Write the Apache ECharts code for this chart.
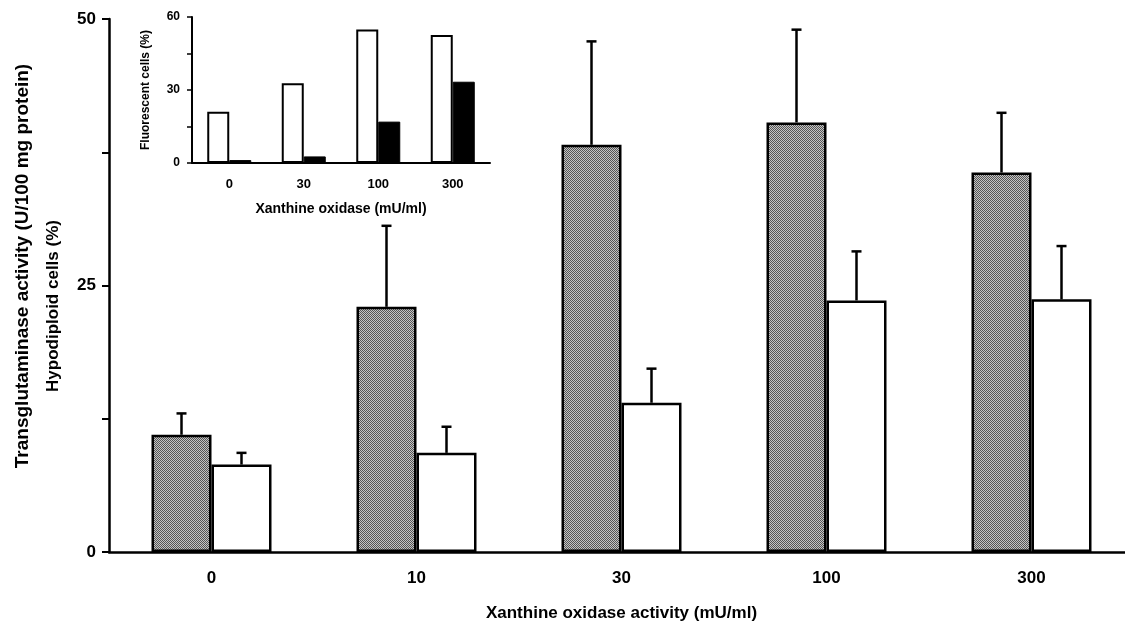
<!DOCTYPE html>
<html><head><meta charset="utf-8">
<script src="https://cdn.jsdelivr.net/npm/echarts@6/dist/echarts.min.js"></script>
<style>html,body{margin:0;padding:0;background:#fff}#c{width:1125px;height:623px}</style>
</head><body><div id="c"></div>
<script>
// ---- data ----
const categories = ['0', '10', '30', '100', '300'];
const transglutaminase = [11.0, 23.0, 38.2, 40.3, 35.6];
const transglutaminaseErr = [2.0, 7.6, 9.7, 8.7, 5.6];
const hypodiploid = [8.2, 9.3, 14.0, 23.6, 23.7];
const hypodiploidErr = [1.1, 2.45, 3.2, 4.6, 5.0];
const mainTickLabels = [0, 25, 50];
const insetCategories = ['0', '30', '100', '300'];
const insetWhite = [21.1, 32.8, 54.9, 52.6];
const insetBlack = [1.2, 2.7, 17.0, 33.4];
const insetTickLabels = [0, 30, 60];
const yTitleLines = ['Transglutaminase activity (U/100 mg protein)', 'Hypodiploid cells (%)'];

// ---- stipple pattern for grey bars ----
const pc = document.createElement('canvas');
pc.width = 4; pc.height = 4;
const pctx = pc.getContext('2d');
for (let y = 0; y < 4; y++) for (let x = 0; x < 4; x++) {
  pctx.fillStyle = ((x + y) % 2 === 0) ? '#555555' : '#c4c4c4';
  pctx.fillRect(x, y, 1, 1);
}
const stipple = { image: pc, repeat: 'repeat' };

const FONT = 'Liberation Sans, Arial, sans-serif';

function errItem(offset, cap) {
  return function (params, api) {
    const i = api.value(0), v = api.value(1), t = api.value(2);
    const p0 = api.coord([i, v]);
    const p1 = api.coord([i, t]);
    const x = p0[0] + offset;
    return {
      type: 'group', children: [
        { type: 'line', shape: { x1: x, y1: p0[1], x2: x, y2: p1[1] }, style: { stroke: '#000', lineWidth: 2.5 } },
        { type: 'line', shape: { x1: x - cap, y1: p1[1], x2: x + cap, y2: p1[1] }, style: { stroke: '#000', lineWidth: 2.5 } }
      ]
    };
  };
}

const chart = echarts.init(document.getElementById('c'), null, { renderer: 'canvas' });
chart.setOption({
  animation: false,
  backgroundColor: '#fff',
  grid: [
    { left: 109, width: 1025, top: 19, height: 533, containLabel: false, outerBoundsMode: 'none' },
    { left: 192, width: 298, top: 17, height: 146, containLabel: false, outerBoundsMode: 'none' }
  ],
  graphic: [
    {
      type: 'text', x: 23, y: 266, rotation: Math.PI / 2,
      style: { text: yTitleLines[0], fill: '#000', font: 'bold 19px ' + FONT, textAlign: 'center', textVerticalAlign: 'middle' }
    },
    {
      type: 'text', x: 53, y: 306, rotation: Math.PI / 2,
      style: { text: yTitleLines[1], fill: '#000', font: 'bold 17px ' + FONT, textAlign: 'center', textVerticalAlign: 'middle' }
    }
  ],
  xAxis: [
    {
      gridIndex: 0, type: 'category', data: categories,
      axisLine: { show: true, lineStyle: { color: '#000', width: 2.5 } },
      axisTick: { show: false },
      axisLabel: { color: '#000', fontFamily: FONT, fontWeight: 'bold', fontSize: 17, margin: 18 },
      name: 'Xanthine oxidase activity (mU/ml)', nameLocation: 'middle', nameGap: 53,
      nameTextStyle: { color: '#000', fontFamily: FONT, fontWeight: 'bold', fontSize: 17 }
    },
    {
      gridIndex: 1, type: 'category', data: insetCategories,
      axisLine: { show: true, lineStyle: { color: '#000', width: 2 } },
      axisTick: { show: false },
      axisLabel: { color: '#000', fontFamily: FONT, fontWeight: 'bold', fontSize: 13, margin: 15 },
      name: 'Xanthine oxidase (mU/ml)', nameLocation: 'middle', nameGap: 39,
      nameTextStyle: { color: '#000', fontFamily: FONT, fontWeight: 'bold', fontSize: 14 }
    }
  ],
  yAxis: [
    {
      gridIndex: 0, type: 'value', min: 0, max: 50, interval: 12.5,
      axisLine: { show: true, lineStyle: { color: '#000', width: 2.5 } },
      axisTick: { show: true, inside: false, length: 7, lineStyle: { color: '#000', width: 2 } },
      splitLine: { show: false },
      axisLabel: {
        color: '#000', fontFamily: FONT, fontWeight: 'bold', fontSize: 17, margin: 13,
        formatter: v => (mainTickLabels.indexOf(v) >= 0 ? String(v) : '')
      }
    },
    {
      gridIndex: 1, type: 'value', min: 0, max: 60, interval: 15,
      axisLine: { show: true, lineStyle: { color: '#000', width: 2 } },
      axisTick: { show: true, inside: false, length: 5, lineStyle: { color: '#000', width: 1.5 } },
      splitLine: { show: false },
      axisLabel: {
        color: '#000', fontFamily: FONT, fontWeight: 'bold', fontSize: 12, margin: 12,
        formatter: v => (insetTickLabels.indexOf(v) >= 0 ? String(v) : '')
      },
      name: 'Fluorescent cells (%)', nameLocation: 'middle', nameGap: 40, nameRotate: 90,
      nameTextStyle: { color: '#000', fontFamily: FONT, fontWeight: 'bold', fontSize: 12 }
    }
  ],
  series: [
    {
      type: 'bar', xAxisIndex: 0, yAxisIndex: 0, data: transglutaminase,
      barWidth: 60, barGap: '0%',
      itemStyle: { color: stipple, borderColor: '#000', borderWidth: 2.5 }
    },
    {
      type: 'bar', xAxisIndex: 0, yAxisIndex: 0, data: hypodiploid,
      barWidth: 60, barGap: '0%',
      itemStyle: { color: '#fff', borderColor: '#000', borderWidth: 2.5 }
    },
    {
      type: 'custom', xAxisIndex: 0, yAxisIndex: 0, z: 5,
      renderItem: errItem(-30, 5),
      data: transglutaminase.map((v, i) => [i, v, v + transglutaminaseErr[i]])
    },
    {
      type: 'custom', xAxisIndex: 0, yAxisIndex: 0, z: 5,
      renderItem: errItem(30, 5),
      data: hypodiploid.map((v, i) => [i, v, v + hypodiploidErr[i]])
    },
    {
      type: 'bar', xAxisIndex: 1, yAxisIndex: 1, data: insetWhite,
      barWidth: 22, barGap: '0%',
      itemStyle: { color: '#fff', borderColor: '#000', borderWidth: 2 }
    },
    {
      type: 'bar', xAxisIndex: 1, yAxisIndex: 1, data: insetBlack,
      barWidth: 22, barGap: '0%',
      itemStyle: { color: '#000', borderColor: '#000', borderWidth: 1 }
    }
  ]
});
</script>
</body></html>
